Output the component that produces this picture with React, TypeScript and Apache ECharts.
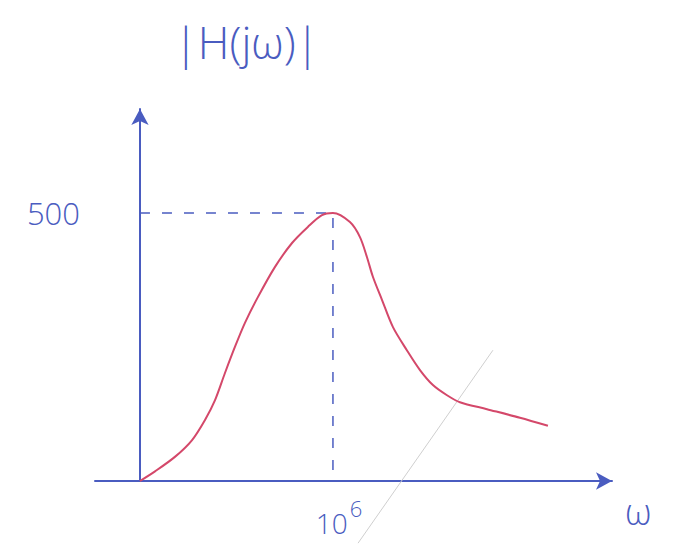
import React, { useEffect, useRef } from "react";
import * as echarts from "echarts";

// Magnitude response |H(jω)| sketched against ω (ω in units of 10^6 rad/s)
const omega: number[] = [
  0, 0.078, 0.181, 0.269, 0.337, 0.389, 0.44, 0.492, 0.544, 0.611, 0.699, 0.788, 0.87, 0.943, 1.0,
  1.088, 1.14, 1.176, 1.207, 1.254, 1.311, 1.383, 1.451, 1.518, 1.591, 1.658, 1.798, 1.969, 2.114,
];
const magnitude: number[] = [
  0, 18, 45, 76, 114, 151, 201, 250, 295, 343, 399, 444, 474, 496, 500,
  483, 455, 418, 381, 338, 287, 244, 207, 179, 160, 147, 134, 118, 103,
];

// Peak guide: ω0 = 10^6, |H| = 500
const peakOmega = 1;
const peakMagnitude = 500;

// Stray pencil stroke crossing the ω axis
const strokeOmega: number[] = [1.13, 1.829];
const strokeMagnitude: number[] = [-116, 244];

const BLUE = "#4a5cc0";
const RED = "#d4486a";
const FONT = "'Open Sans', 'DejaVu Sans', sans-serif";

export default function App() {
  const ref = useRef<HTMLDivElement>(null);

  useEffect(() => {
    if (!ref.current) return;
    const chart = echarts.init(ref.current, undefined, { renderer: "svg" });
    chart.setOption({
      animation: false,
      backgroundColor: "#ffffff",
      grid: { left: 95, right: 61, top: 109, bottom: 63, outerBoundsMode: "none", containLabel: false },
      xAxis: {
        type: "value",
        min: -0.233,
        max: 2.446,
        splitLine: { show: false },
        axisTick: { show: false },
        axisLine: {
          onZero: true,
          lineStyle: { color: BLUE, width: 2 },
          symbol: ["none", "arrow"],
          symbolSize: [13, 16],
        },
        axisLabel: {
          customValues: [peakOmega],
          margin: 16,
          color: BLUE,
          formatter: () => "{b|10}{s|6}",
          rich: {
            b: { fontSize: 28, fontFamily: FONT, fontWeight: 300, color: BLUE, verticalAlign: "bottom", padding: [0, 0, 0, 12] },
            s: { fontSize: 22, fontFamily: FONT, fontWeight: 300, color: BLUE, padding: [0, 0, 18, 2] },
          },
        },
      },
      yAxis: {
        type: "value",
        min: 0,
        max: 694,
        splitLine: { show: false },
        axisTick: { show: false },
        axisLine: {
          onZero: true,
          lineStyle: { color: BLUE, width: 2 },
          symbol: ["none", "arrow"],
          symbolSize: [13, 16],
        },
        axisLabel: {
          customValues: [peakMagnitude],
          margin: 15,
          color: BLUE,
          fontSize: 31,
          fontWeight: 300,
          fontFamily: FONT,
          formatter: (v: number) => String(v),
        },
      },
      graphic: [
        {
          type: "text",
          left: 174,
          top: 20,
          style: { text: "|H(jω)|", fill: BLUE, font: `300 44px ${FONT}` },
        },
        {
          type: "text",
          left: 625,
          top: 493,
          style: { text: "ω", fill: BLUE, font: `300 36px ${FONT}`, lineHeight: 36 },
        },
      ],
      series: [
        {
          type: "line",
          data: strokeOmega.map((x, i) => [x, strokeMagnitude[i]]),
          clip: false,
          symbol: "none",
          lineStyle: { color: "#cfcfcf", width: 1 },
          silent: true,
        },
        {
          type: "line",
          data: [
            [0, peakMagnitude],
            [peakOmega, peakMagnitude],
            [peakOmega, 0],
          ],
          symbol: "none",
          lineStyle: { color: BLUE, width: 1.5, type: [10, 12] },
          silent: true,
        },
        {
          type: "line",
          data: omega.map((x, i) => [x, magnitude[i]]),
          smooth: 0.3,
          symbol: "none",
          lineStyle: { color: RED, width: 2 },
        },
      ],
    });
    return () => chart.dispose();
  }, []);

  return (
    <div
      ref={ref}
      style={{ position: "fixed", left: 0, top: 0, width: 673, height: 544, background: "#fff" }}
    />
  );
}
